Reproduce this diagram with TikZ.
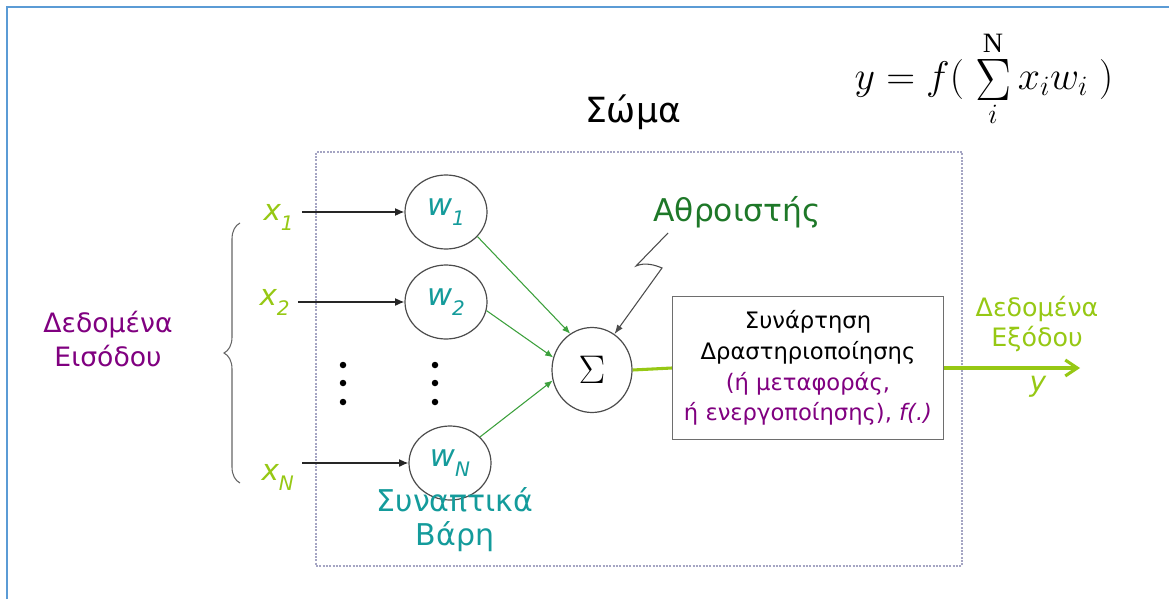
\RequirePackage{fix-cm}
\documentclass[tikz,border=0pt]{standalone}
\usepackage{amsmath}
\usepackage{graphicx}
\usepackage{fontspec}
\setmainfont{DejaVu Sans}
\newfontfamily\serifrm{Liberation Serif}
\usetikzlibrary{arrows.meta,decorations.pathreplacing,shapes.geometric,calc}
\definecolor{limeg}{RGB}{150,200,20}
\definecolor{tealw}{RGB}{20,155,155}
\definecolor{purp}{RGB}{128,0,128}
\definecolor{dgreen}{RGB}{30,120,40}
\definecolor{agreen}{RGB}{60,160,60}
\definecolor{frameblue}{RGB}{91,155,213}
\definecolor{bodygray}{RGB}{165,165,195}
\definecolor{boxgray}{RGB}{110,110,110}
\newcommand{\mysub}[1]{\raisebox{-0.35em}{\fontsize{15}{15}\selectfont #1}}
\newcommand{\bigsumop}{\mathop{\vcenter{\hbox{\scalebox{1.35}[1.5]{$\Sigma$}}}}}
\tikzset{
  wcirc/.style={ellipse, draw=black!70, line width=0.9pt, minimum width=82*0.75pt, minimum height=74*0.75pt, inner sep=0pt, text=tealw, font=\fontsize{23}{26}\selectfont\itshape},
  xlab/.style={text=limeg, font=\fontsize{22}{24}\selectfont\itshape, anchor=base west, inner sep=1pt},
  inarrow/.style={draw=black!85, line width=1pt, -{Latex[length=7pt,width=6pt]}},
  garrow/.style={draw=agreen, line width=0.8pt, -{Latex[length=6pt,width=5pt]}},
  dotn/.style={circle, fill=black, inner sep=0pt, minimum size=6.5*0.75pt},
  bigtext/.style={font=\fontsize{20}{25.5}\selectfont, align=center}
}
\begin{document}
\begin{tikzpicture}[x=0.75pt,y=-0.75pt]
\useasboundingbox (0,0) rectangle (1169,599);
% frame (top and left only)
\draw[frameblue, line width=1.6pt] (7,599) -- (7,7) -- (1169,7);
% body
\node[draw=bodygray, line width=0.9pt, dash pattern=on 1.5pt off 1pt, minimum width=646*0.75pt, minimum height=414*0.75pt, inner sep=0pt] (body) at (639,359) {};
\node[font=\fontsize{26}{30}\selectfont] (soma) at (633,112) {Σώμα};
% formula
\node[font=\fontsize{30}{36}\selectfont] (form) at (984,79) {$y = f(\;\bigsumop\limits_{i}^{\text{\serifrm N}} x_{i} w_{i}\;)$};
% weights
\node[wcirc] (w1) at (446,212) {w\mysub{1}};
\node[wcirc] (w2) at (446,302) {w\mysub{2}};
\node[wcirc] (wN) at (450,463) {w\mysub{N}};
% inputs
\node[xlab] (x1) at (262,220) {x\mysub{1}};
\node[xlab] (x2) at (258,305) {x\mysub{2}};
\node[xlab] (xN) at (260,480) {x\mysub{N}};
\draw[inarrow] ([xshift=5pt]x1.east |- w1.west) -- (w1.west);
\draw[inarrow] ([xshift=5pt]x2.east |- w2.west) -- (w2.west);
\draw[inarrow] ([xshift=5pt]xN.east |- wN.west) -- (wN.west);
% dots
\node[dotn] (d1) at (343,365) {};
\node[dotn] (d2) at (343,383) {};
\node[dotn] (d3) at (343,402) {};
\node[dotn] (d4) at (435,365) {};
\node[dotn] (d5) at (435,383) {};
\node[dotn] (d6) at (435,402) {};
% brace
\draw[black!60, line width=0.8pt, decorate, decoration={brace, amplitude=12pt}] (240,483) -- (240,223);
\node[bigtext, text=purp] (inlab) at (108,339) {Δεδομένα\\Εισόδου};
% sigma
\node[ellipse, draw=black!70, line width=0.9pt, minimum width=80*0.75pt, minimum height=85*0.75pt, inner sep=0pt, font=\fontsize{30}{32}\selectfont] (sigma) at (592,370) {$\Sigma$};
\draw[garrow] (w1.-38) -- (sigma.121);
\draw[garrow] (w2.-12) -- (sigma.162);
\draw[garrow] (wN.41) -- (sigma.195);
% summer label
\node[font=\fontsize{23.5}{26}\selectfont, text=dgreen] (ath) at (737,212) {Αθροιστής};
\coordinate (zz) at (668,233);
\draw[black!70, line width=0.8pt, -{Latex[length=7pt,width=5pt]}] (zz) -- (636,266) .. controls (645,262) and (655,265) .. (662,268) -- (sigma.58);
% activation box
\node[draw=boxgray, line width=0.9pt, minimum width=271*0.75pt, minimum height=143*0.75pt, align=center, font=\fontsize{17}{23}\selectfont] (box) at (808,368) {Συνάρτηση\\Δραστηριοποίησης\\\textcolor{purp}{(ή μεταφοράς,}\\\textcolor{purp}{ή ενεργοποίησης), \textit{f(.)}}};
\draw[limeg, line width=2.3pt] (sigma.east) -- (box.west);
\coordinate (yend) at (1080,368);
\draw[limeg, line width=2.3pt, -{Straight Barb[length=9pt,width=12pt]}] (box.east) -- (yend);
\node[font=\fontsize{19}{23}\selectfont, align=center, text=limeg] (outlab) at (1037,324) {Δεδομένα\\Εξόδου};
\node[font=\fontsize{21}{24}\selectfont\itshape, text=limeg] (ylab) at (1038,387) {y};
% synaptic weights label
\node[font=\fontsize{22.5}{25.5}\selectfont, align=center, text=tealw] (syn) at (455,520) {Συναπτικά\\Βάρη};
\end{tikzpicture}
\end{document}
